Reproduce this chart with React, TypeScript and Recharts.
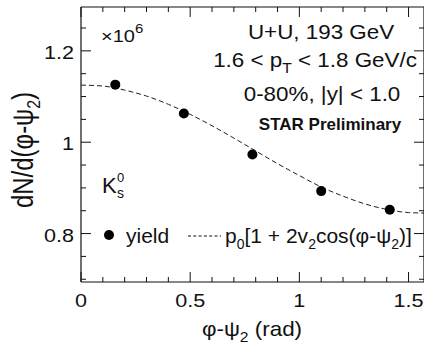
import React from "react"
import {
  ComposedChart,
  Line,
  Scatter,
  XAxis,
  YAxis,
  ReferenceLine,
} from "recharts"

// measured yield per bin (x1e6)
const phiBins = [0.157, 0.471, 0.785, 1.1, 1.414]
const yieldBins = [1.126, 1.063, 0.973, 0.893, 0.852]

// fit curve p0[1 + 2v2 cos(2(phi-psi2))]
const phiFit = [0, 0.1, 0.2, 0.3, 0.4, 0.5, 0.6, 0.7, 0.8, 0.9, 1.0, 1.1, 1.2, 1.3, 1.4, 1.5, 1.5708]
const yieldFit = [1.125, 1.123, 1.114, 1.101, 1.083, 1.061, 1.036, 1.009, 0.981, 0.953, 0.927, 0.902, 0.882, 0.865, 0.853, 0.846, 0.845]

const xTicks = [0, 0.1, 0.2, 0.3, 0.4, 0.5, 0.6, 0.7, 0.8, 0.9, 1.0, 1.1, 1.2, 1.3, 1.4, 1.5]
const yTicks = [0.7, 0.75, 0.8, 0.85, 0.9, 0.95, 1.0, 1.05, 1.1, 1.15, 1.2, 1.25]
const xDomain: [number, number] = [0, 1.5708]
const yDomain: [number, number] = [0.694, 1.296]

const W = 424
const H = 345
const PLOT_TOP = 7
const PLOT_BOTTOM = 282
const PLOT_LEFT = 81
const PLOT_RIGHT = 424
const FONT = '"Liberation Sans", Arial, Helvetica, sans-serif'
const INK = "#111"

const pointData = phiBins.map((x, i) => ({ x, y: yieldBins[i] }))
const fitData = phiFit.map((x, i) => ({ x, y: yieldFit[i] }))

const fmt = (v: number) => String(Math.round(v * 100) / 100)

function XTick(props: any) {
  const { x, payload } = props
  const v = payload.value
  const major = Math.abs(v * 2 - Math.round(v * 2)) < 1e-6
  const len = major ? 10 : 5
  return (
    <g>
      <line x1={x} x2={x} y1={PLOT_BOTTOM} y2={PLOT_BOTTOM - len} stroke={INK} />
      <line x1={x} x2={x} y1={PLOT_TOP} y2={PLOT_TOP + len} stroke={INK} />
      {major && (
        <text
          transform={`translate(${x},307) scale(1.2,1)`}
          textAnchor="middle"
          fontFamily={FONT}
          fontSize={18}
          fill={INK}
        >
          {fmt(v)}
        </text>
      )}
    </g>
  )
}

function YTick(props: any) {
  const { y, payload } = props
  const v = payload.value
  const major = Math.abs(v * 5 - Math.round(v * 5)) < 1e-6
  const len = major ? 10 : 5
  return (
    <g>
      <line x1={PLOT_LEFT} x2={PLOT_LEFT + len} y1={y} y2={y} stroke={INK} />
      <line x1={PLOT_RIGHT - len} x2={PLOT_RIGHT} y1={y} y2={y} stroke={INK} />
      {major && (
        <text
          transform={`translate(74,${y + 8}) scale(1.2,1)`}
          textAnchor="end"
          fontFamily={FONT}
          fontSize={18}
          fill={INK}
        >
          {fmt(v)}
        </text>
      )}
    </g>
  )
}

const Dot = (props: any) => <circle cx={props.cx} cy={props.cy} r={5} fill="#000" />

function Annotations() {
  const t = { fontFamily: FONT, fill: INK }
  return (
    <svg
      width={W}
      height={H}
      style={{ position: "absolute", left: 0, top: 0, pointerEvents: "none" }}
    >
      <text {...t} fontSize={16} transform="translate(101,42) scale(1.25,1)">
        ×10<tspan fontSize={12} dy={-9}>6</tspan>
      </text>

      <text {...t} fontSize={20} textAnchor="middle" transform="translate(321,39) scale(1.12,1)">
        U+U, 193 GeV
      </text>
      <text {...t} fontSize={20} textAnchor="middle" transform="translate(315,67) scale(1.12,1)">
        1.6 &lt; p<tspan fontSize={14} dy={6}>T</tspan>
        <tspan dy={-6}> &lt; 1.8 GeV/c</tspan>
      </text>
      <text {...t} fontSize={20} textAnchor="middle" transform="translate(322,101) scale(1.12,1)">
        0-80%, |y| &lt; 1.0
      </text>
      <text {...t} fontSize={17} fontWeight="bold" textAnchor="middle" x={330} y={130}>
        STAR Preliminary
      </text>

      <text {...t} fontSize={22} x={102} y={193}>K</text>
      <text {...t} fontSize={13} x={117} y={182}>0</text>
      <text {...t} fontSize={14} x={117} y={198}>s</text>

      <circle cx={109} cy={235} r={5} fill="#000" />
      <text {...t} fontSize={21} x={126} y={243}>yield</text>
      <line x1={188} x2={221} y1={236} y2={236} stroke={INK} strokeDasharray="3 2.3" />
      <text {...t} fontSize={21} x={225} y={243}>
        p<tspan fontSize={14} dy={6}>0</tspan>
        <tspan dy={-6}>[1 + 2v</tspan>
        <tspan fontSize={14} dy={6}>2</tspan>
        <tspan dy={-6}>cos(φ-ψ</tspan>
        <tspan fontSize={14} dy={6}>2</tspan>
        <tspan dy={-6}>)]</tspan>
      </text>

      <text {...t} fontSize={20} textAnchor="middle" transform="translate(252,336) scale(1.12,1)">
        φ-ψ<tspan fontSize={14} dy={6}>2</tspan>
        <tspan dy={-6}> (rad)</tspan>
      </text>
      <text
        {...t}
        fontSize={24}
        textAnchor="middle"
        transform="translate(33,150) rotate(-90) scale(1,1.2)"
      >
        dN/d(φ-ψ<tspan fontSize={16} dy={6}>2</tspan>
        <tspan dy={-6}>)</tspan>
      </text>
    </svg>
  )
}

export default function App() {
  return (
    <div style={{ position: "absolute", left: 0, top: 0, width: W, height: H, background: "#fff" }}>
      <ComposedChart
        width={W}
        height={H}
        margin={{ top: PLOT_TOP, right: 0, bottom: 0, left: 0 }}
      >
        <XAxis
          type="number"
          dataKey="x"
          domain={xDomain}
          ticks={xTicks}
          interval={0}
          allowDataOverflow
          height={H - PLOT_BOTTOM}
          tickLine={false}
          axisLine={{ stroke: INK, strokeWidth: 1.2 }}
          tick={<XTick />}
        />
        <YAxis
          type="number"
          dataKey="y"
          domain={yDomain}
          ticks={yTicks}
          interval={0}
          allowDataOverflow
          width={PLOT_LEFT}
          tickLine={false}
          axisLine={{ stroke: INK, strokeWidth: 1.2 }}
          tick={<YTick />}
        />
        <ReferenceLine y={yDomain[1]} stroke={INK} strokeWidth={1.2} />
        <ReferenceLine x={xDomain[1]} stroke={INK} strokeWidth={1.2} />
        <Line
          data={fitData}
          dataKey="y"
          type="monotone"
          stroke="#222"
          strokeWidth={1}
          strokeDasharray="5 3"
          dot={false}
          activeDot={false}
          isAnimationActive={false}
        />
        <Scatter
          data={pointData}
          dataKey="y"
          shape={<Dot />}
          isAnimationActive={false}
        />
      </ComposedChart>
      <Annotations />
    </div>
  )
}
